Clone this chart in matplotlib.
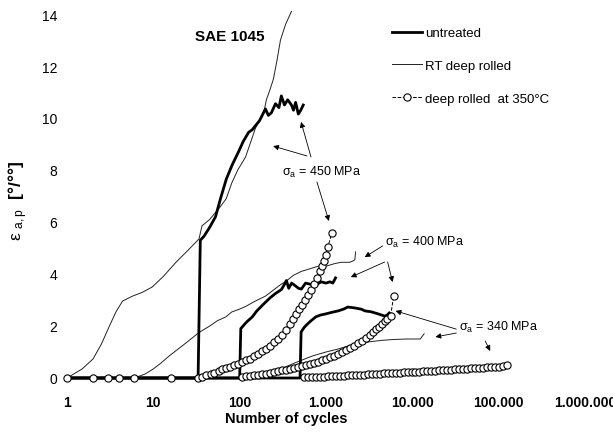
import matplotlib.pyplot as plt

plt.rcParams["font.family"] = "Liberation Sans"
plt.rcParams["mathtext.fontset"] = "custom"
plt.rcParams["mathtext.rm"] = "Liberation Sans"
plt.rcParams["mathtext.it"] = "Liberation Sans"

# ---- data (cycles, strain amplitude in o/oo) ----
# sigma_a = 450 MPa
untreated_450_n = [1, 33, 35, 38.6, 45, 52.5, 60, 70, 82, 97, 110, 127, 140, 152, 170,
                   199, 215, 233, 260, 285, 304, 330, 360, 398, 420, 445, 478, 510, 545]
untreated_450_e = [0, 0, 5.3, 5.45, 5.8, 6.2, 6.9, 7.65, 8.2, 8.7, 9.1, 9.45, 9.55, 9.7, 9.9,
                   10.35, 10.1, 10.2, 10.55, 10.4, 10.85, 10.5, 10.7, 10.5, 10.3, 10.6, 10.15, 10.3, 10.5]

rt_450_n = [1, 1.5, 2, 2.5, 3.1, 3.7, 4.4, 5.75, 7.5, 9.7, 13, 18.4, 25, 33.8, 36.6, 45,
            60, 70, 81, 95, 117, 135, 152, 175, 190, 204, 225, 246, 270, 297, 340, 398]
rt_450_e = [0, 0.35, 0.73, 1.3, 2.0, 2.55, 2.96, 3.15, 3.3, 3.5, 3.9, 4.46, 4.9, 5.35, 5.85, 6.1,
            6.6, 6.9, 7.5, 8.0, 8.5, 9.1, 9.6, 10.0, 10.2, 10.7, 11.1, 11.5, 12.2, 13.0, 13.6, 14.1]

hot_450_n = [1, 2, 3, 4, 6, 16, 33, 37, 41, 46, 51, 57, 63, 70, 78, 87, 96, 107, 119, 132, 147,
             164, 182, 203, 225, 251, 279, 310, 345, 383, 415, 450, 487, 527, 571, 618, 670,
             725, 785, 850, 897, 946, 998, 1052, 1170]
hot_450_e = [0, 0, 0, 0, 0, 0, 0, 0.05, 0.1, 0.15, 0.2, 0.27, 0.33, 0.39, 0.44, 0.5, 0.55, 0.62,
             0.68, 0.75, 0.84, 0.93, 1.02, 1.13, 1.25, 1.38, 1.5, 1.65, 1.85, 2.08, 2.28, 2.48,
             2.65, 2.82, 3.0, 3.2, 3.4, 3.62, 3.85, 4.1, 4.3, 4.5, 4.75, 5.05, 5.58]

# sigma_a = 400 MPa
untreated_400_n = [1, 100, 103, 120, 140, 158, 190, 228, 260, 304, 330, 348, 370, 400, 440,
                   480, 518, 580, 670, 750, 875, 1000, 1110, 1200, 1290]
untreated_400_e = [0, 0, 1.9, 2.15, 2.35, 2.58, 2.85, 3.1, 3.25, 3.4, 3.6, 3.75, 3.45, 3.65, 3.55,
                   3.45, 3.42, 3.65, 3.6, 3.55, 3.7, 3.65, 3.7, 3.65, 3.85]

rt_400_n = [1, 6, 8, 10, 12, 15.3, 20, 25, 33.8, 45, 55, 69, 81, 100, 117, 150, 199, 250,
            300, 338, 420, 518, 650, 812, 1000, 1260, 1500, 1880, 2050, 2160, 2200]
rt_400_e = [0, 0, 0.15, 0.35, 0.55, 0.85, 1.15, 1.4, 1.75, 2.0, 2.2, 2.35, 2.54, 2.65, 2.75,
            2.95, 3.15, 3.4, 3.6, 3.7, 3.95, 4.1, 4.2, 4.3, 4.3, 4.4, 4.45, 4.45, 4.5, 4.55, 4.85]

hot_400_n = [106, 119, 132, 147, 164, 182, 203, 225, 251, 279, 310, 345, 383, 425, 472, 527,
             585, 650, 725, 805, 897, 998, 1110, 1240, 1375, 1530, 1700, 1900, 2110, 2350,
             2610, 2910, 3240, 3500, 3800, 4100, 4400, 4770, 5150, 5600, 6070]
hot_400_e = [0.04, 0.06, 0.08, 0.1, 0.12, 0.14, 0.17, 0.2, 0.23, 0.26, 0.29, 0.32, 0.35, 0.38,
             0.41, 0.45, 0.49, 0.53, 0.58, 0.63, 0.68, 0.74, 0.8, 0.86, 0.92, 0.99, 1.06, 1.14,
             1.23, 1.33, 1.44, 1.55, 1.66, 1.76, 1.87, 1.98, 2.08, 2.18, 2.28, 2.38, 3.15]

# sigma_a = 340 MPa
untreated_340_n = [1, 500, 515, 560, 620, 670, 760, 860, 980, 1150, 1380, 1600, 1790, 2100,
                   2550, 2830, 3300, 3900, 4800, 5100, 5400]
untreated_340_e = [0, 0, 1.77, 1.95, 2.1, 2.2, 2.35, 2.42, 2.46, 2.52, 2.58, 2.65, 2.73, 2.7,
                   2.65, 2.58, 2.55, 2.48, 2.38, 2.42, 2.5]

rt_340_n = [1, 120, 220, 300, 450, 700, 1000, 1400, 1800, 2500, 3300, 4500, 6000, 8500,
            11000, 12400, 13000, 13700]
rt_340_e = [0, 0, 0.27, 0.35, 0.6, 0.85, 1.0, 1.12, 1.23, 1.33, 1.4, 1.45, 1.48, 1.5,
            1.5, 1.5, 1.6, 1.7]

hot_340_n = [556, 618, 688, 765, 851, 946, 1052, 1170, 1301, 1447, 1608, 1789, 1989, 2213,
             2460, 2736, 3042, 3383, 3763, 4184, 4653, 5175, 5754, 6398, 7115, 7912, 8800,
             9786, 10880, 12100, 13460, 14970, 16650, 18520, 20590, 22900, 25470, 28330,
             31500, 35030, 38960, 43330, 48190, 53590, 59600, 66280, 73710, 81970, 91160,
             101400, 112700, 125400]
hot_340_e = [0.02, 0.03, 0.04, 0.04, 0.05, 0.05, 0.06, 0.06, 0.07, 0.08, 0.09, 0.1, 0.11, 0.11,
             0.12, 0.13, 0.14, 0.15, 0.16, 0.17, 0.18, 0.19, 0.2, 0.2, 0.21, 0.22, 0.22, 0.23,
             0.24, 0.25, 0.26, 0.26, 0.27, 0.28, 0.29, 0.3, 0.31, 0.32, 0.33, 0.34, 0.35, 0.36,
             0.37, 0.38, 0.39, 0.4, 0.41, 0.42, 0.43, 0.44, 0.46, 0.5]

x_ticks = [1, 10, 100, 1000, 10000, 100000, 1000000]
x_labels = ["1", "10", "100", "1.000", "10.000", "100.000", "1.000.000"]
y_ticks = [0, 2, 4, 6, 8, 10, 12, 14]

fig = plt.figure(figsize=(6.13, 4.35), dpi=100)
ax = fig.add_axes([67 / 613, 56 / 435, 518 / 613, 364 / 435])

thick = dict(color="black", lw=2.0, clip_on=False, solid_joinstyle="round")
thin = dict(color="#222222", lw=0.7, clip_on=False)
hot = dict(color="black", lw=0.7, ls="--", marker="o", ms=5.2, mfc="white",
           mec="black", mew=0.8, clip_on=False)

# thin lines first, circles, then thick on top
ax.plot(rt_450_n, rt_450_e, **thin)
ax.plot(rt_400_n, rt_400_e, **thin)
ax.plot(rt_340_n, rt_340_e, **thin)
ax.plot(untreated_340_n, untreated_340_e, **thick)
ax.plot(untreated_400_n, untreated_400_e, **thick)
ax.plot(untreated_450_n, untreated_450_e, **thick)
ax.plot(hot_340_n, hot_340_e, **hot)
ax.plot(hot_400_n, hot_400_e, **hot)
ax.plot(hot_450_n, hot_450_e, **hot)

ax.set_xscale("log")
ax.set_xlim(1, 1e6)
ax.set_ylim(0, 14)
ax.set_xticks(x_ticks)
ax.set_xticklabels(x_labels, fontweight="bold", fontsize=10)
ax.minorticks_off()
ax.set_yticks(y_ticks)
ax.set_yticklabels([str(v) for v in y_ticks], fontsize=10)
ax.tick_params(axis="x", length=0, pad=12)
ax.tick_params(axis="y", length=0, pad=7)
for s in ax.spines.values():
    s.set_visible(False)

ax.set_xlabel("Number of cycles", fontsize=10.5, fontweight="bold")
ax.xaxis.set_label_coords(0.423, -0.09)
ax.set_ylabel(r"$\varepsilon\ _{\mathrm{a,p}}$  [°/°°]", fontsize=12.5, fontweight="bold")
ax.yaxis.set_label_coords(-0.072, 0.49)

ax.text(30.4, 13.15, "SAE 1045", fontsize=11, fontweight="bold", ha="left", va="center")

# legend
legend_lines = [
    plt.Line2D([], [], color="black", lw=2.0),
    plt.Line2D([], [], color="#222222", lw=0.7),
    plt.Line2D([], [], color="black", lw=0.7, ls="--", marker="o", ms=5.2,
               mfc="white", mec="black", mew=0.8),
]
fig.legend(legend_lines, ["untreated", "RT deep rolled", "deep rolled  at 350°C"],
           loc="upper left", bbox_to_anchor=(392 / 613, 1 - 28 / 435), frameon=False,
           fontsize=9.5, handlelength=2.3, handletextpad=0.2, labelspacing=1.55,
           borderpad=0, borderaxespad=0)

# annotations
arrow = dict(arrowstyle="-|>", color="black", lw=0.6, mutation_scale=8, shrinkA=0, shrinkB=0)

ax.text(310, 7.96, r"$\sigma_\mathrm{a}$ = 450 MPa", fontsize=9, ha="left", va="center")
ax.annotate("", xy=(244, 8.92), xytext=(602, 8.54), arrowprops=arrow)
ax.annotate("", xy=(514, 9.85), xytext=(670, 8.5), arrowprops=arrow)
ax.annotate("", xy=(1080, 6.04), xytext=(785, 7.54), arrowprops=arrow)

ax.text(4780, 5.27, r"$\sigma_\mathrm{a}$ = 400 MPa", fontsize=9, ha="left", va="center")
ax.annotate("", xy=(2810, 4.65), xytext=(4530, 5.08), arrowprops=arrow)
ax.annotate("", xy=(1938, 3.88), xytext=(4780, 4.46), arrowprops=arrow)
ax.annotate("", xy=(5910, 3.69), xytext=(5175, 4.46), arrowprops=arrow)

ax.text(35000, 2.0, r"$\sigma_\mathrm{a}$ = 340 MPa", fontsize=9, ha="left", va="center")
ax.annotate("", xy=(6400, 2.58), xytext=(32300, 1.88), arrowprops=arrow)
ax.annotate("", xy=(18500, 1.58), xytext=(32300, 1.73), arrowprops=arrow)
ax.annotate("", xy=(79800, 1.04), xytext=(69900, 1.42), arrowprops=arrow)

fig.savefig("out.png", dpi=100)
